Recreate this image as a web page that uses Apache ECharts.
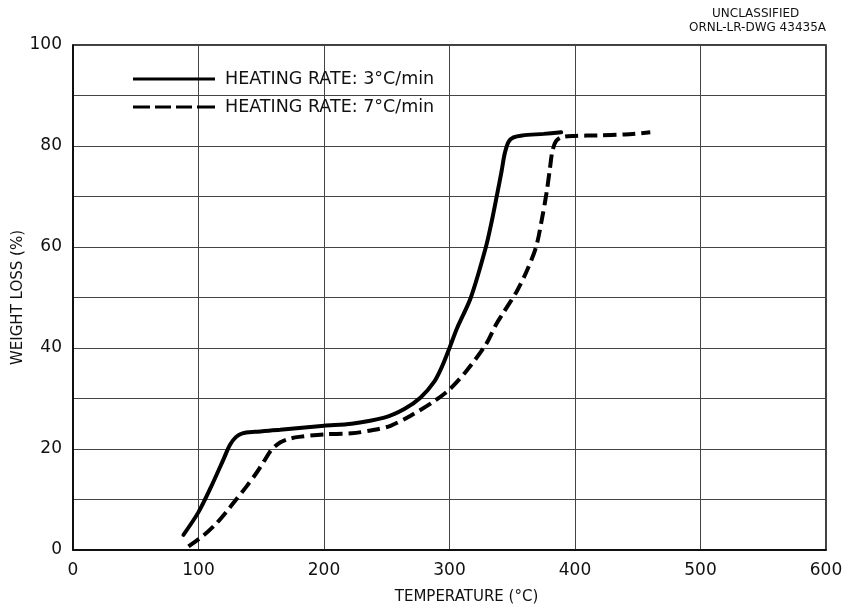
<!DOCTYPE html>
<html>
<head>
<meta charset="utf-8">
<script src="https://cdn.jsdelivr.net/npm/echarts@6/dist/echarts.min.js"></script>
<style>
html,body{margin:0;padding:0;background:#fff;}
#chart{width:848px;height:609px;}
</style>
</head>
<body>
<div id="chart"></div>
<script>
// Series: [temperature (°C), weight loss (%)]
const rate3 = [[88,3],[100,7.5],[110,12.5],[120,18],[125,20.8],[130,22.4],[135,23.1],[145,23.4],[165,23.8],[200,24.6],[222,25],[248,26.2],[264,27.9],[277,30.2],[288,33.4],[294,36.3],[300,40],[306,43.9],[317,50],[329,60],[334,65.5],[338,70.5],[341.5,75],[344,78.5],[347,80.8],[351,81.7],[358,82.1],[375,82.4],[389,82.7]];
const rate7 = [[92,0.7],[104,2.9],[114,5.2],[122,7.5],[130,10],[138,12.5],[146,15.2],[152,17.5],[158,19.8],[165,21.3],[172,22],[180,22.4],[200,22.9],[222,23.1],[240,23.8],[253,24.6],[269,26.6],[288,29.5],[300,31.8],[313,35.3],[329,40.7],[337,44.6],[343,47],[354,51.4],[362,55.5],[369,60],[374,66],[377.5,71],[380,75.5],[382,79],[385,81],[390,81.8],[400,82],[418,82.1],[440,82.3],[460,82.7]];
const seriesNames = ['HEATING RATE: 3°C/min', 'HEATING RATE: 7°C/min'];
const xTicks = [0,100,200,300,400,500,600];
const yTicks = [0,20,40,60,80,100];
const xName = 'TEMPERATURE (°C)';
const yName = 'WEIGHT LOSS (%)';
const stampLines = ['UNCLASSIFIED', 'ORNL-LR-DWG 43435A'];

const FONT = 'DejaVu Sans';
const solidIcon = 'path://M0,0H82V3H0Z';
const dashIcon = 'path://M0,0H17V3H0Z M22,0H38V3H22Z M43,0H59V3H43Z M64,0H82V3H64Z';
const chart = echarts.init(document.getElementById('chart'));
chart.setOption({
  animation: false,
  backgroundColor: '#fff',
  textStyle: {fontFamily: FONT, color: '#111'},
  title: [
    {text: stampLines[0], left: 712, top: 8, padding: 0, textStyle: {fontSize: 12, fontWeight: 'normal', color: '#111', fontFamily: FONT}},
    {text: stampLines[1], right: 22, top: 22, padding: 0, textStyle: {fontSize: 12, fontWeight: 'normal', color: '#111', fontFamily: FONT}}
  ],
  legend: {
    orient: 'vertical', left: 128, top: 65,
    itemWidth: 82, itemHeight: 3, itemGap: 10,
    textStyle: {fontSize: 17.5, color: '#111', fontFamily: FONT, padding: [0, 0, 0, 5]},
    data: [{name: seriesNames[0], icon: solidIcon}, {name: seriesNames[1], icon: dashIcon}]
  },
  grid: {left: 73, right: 22, top: 45, bottom: 59, show: true, borderColor: '#000', borderWidth: 1.5,
         containLabel: false, outerBoundsMode: 'none'},
  xAxis: {
    type: 'value', min: xTicks[0], max: xTicks[xTicks.length-1], interval: 100,
    name: xName, nameLocation: 'middle', nameGap: 40, nameMoveOverlap: false,
    nameTextStyle: {fontSize: 15, color: '#111', fontFamily: FONT, padding: [0, 0, 0, 34]},
    axisLine: {lineStyle: {color: '#000', width: 1.5}},
    axisTick: {show: false},
    axisLabel: {fontSize: 17, color: '#111', margin: 12,
      formatter: v => xTicks.includes(v) ? String(v) : ''},
    splitLine: {show: true, lineStyle: {color: '#444', width: 1}}
  },
  yAxis: {
    type: 'value', min: 0, max: 100, interval: 10,
    name: yName, nameLocation: 'middle', nameGap: 47, nameMoveOverlap: false,
    nameTextStyle: {fontSize: 15, color: '#111', fontFamily: FONT},
    axisLine: {show: true, lineStyle: {color: '#000', width: 1.5}},
    axisTick: {show: false},
    axisLabel: {fontSize: 17, color: '#111', margin: 11,
      formatter: v => yTicks.includes(v) ? String(v) : ''},
    splitLine: {show: true, lineStyle: {color: '#444', width: 1}}
  },
  series: [
    {name: seriesNames[0], type: 'line', data: rate3, smooth: 0.3, symbol: 'none',
     lineStyle: {color: '#000', width: 4, type: 'solid', cap: 'round'}, itemStyle: {color: '#000'}},
    {name: seriesNames[1], type: 'line', data: rate7, smooth: 0.3, symbol: 'none',
     lineStyle: {color: '#000', width: 4, type: [13, 6]}, itemStyle: {color: '#000'}}
  ]
});
</script>
</body>
</html>
